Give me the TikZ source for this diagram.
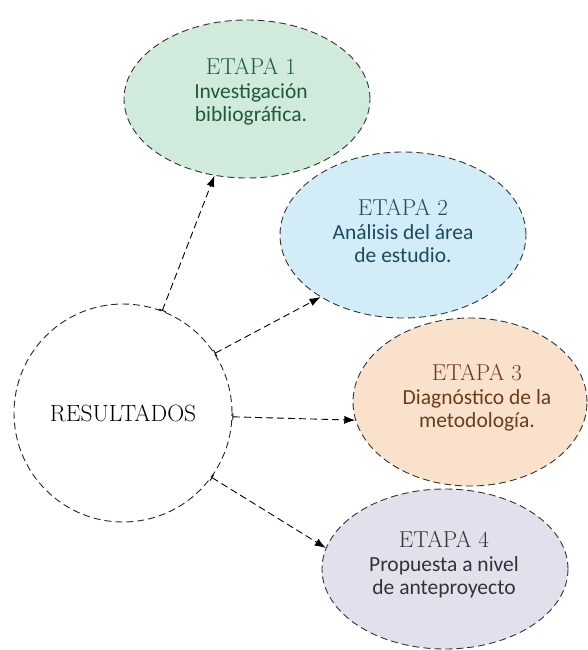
\documentclass[tikz,border=0pt]{standalone}
\usepackage{fontspec}
\setsansfont{Carlito}
\usetikzlibrary{shapes.geometric,arrows.meta}
\definecolor{g1}{HTML}{D0EBDC}\definecolor{g1t}{HTML}{1E5A3A}
\definecolor{b2}{HTML}{D2ECF8}\definecolor{b2t}{HTML}{1D4B5E}
\definecolor{o3}{HTML}{F9E1CC}\definecolor{o3t}{HTML}{6A3C1C}
\definecolor{p4}{HTML}{E3E0EE}\definecolor{p4t}{HTML}{333333}
\tikzset{
  dsh/.style={line width=0.9pt, dash pattern=on 7pt off 4pt},
  etapa/.style={ellipse, draw=black!80, dsh, inner sep=0pt},
  etxt/.style={align=center, inner sep=0pt, font=\fontsize{21.5}{23}\sffamily},
  conn/.style={dsh, black, {Bar[width=7pt,line width=0.9pt]}-{Latex[length=11pt,width=8pt]}}
}
\newcommand{\etitle}[1]{{\fontsize{23}{24}\rmfamily ETAPA \oldstylenums{#1}}\\[1pt]}
\begin{document}
\begin{tikzpicture}[x=1pt,y=-1pt]
\useasboundingbox (0,0) rectangle (587,650);
\node[circle, draw=black!85, dsh, minimum size=218pt, inner sep=0pt,
  font=\fontsize{23.5}{25}\rmfamily] (res) at (123,413) {RESULTADOS};
\node[etapa, fill=g1, minimum width=246pt, minimum height=158pt] (e1) at (247,99) {};
\node[etxt, text=g1t] (t1) at (251,92) {\etitle{1}Investigación\\bibliográfica.};
\node[etapa, fill=b2, minimum width=246pt, minimum height=166pt] (e2) at (403,235) {};
\node[etxt, text=b2t] (t2) at (403,231) {\etitle{2}Análisis del área\\de estudio.};
\node[etapa, fill=o3, minimum width=234pt, minimum height=168pt] (e3) at (470,402) {};
\node[etxt, text=o3t] (t3) at (477,398) {\etitle{3}Diagnóstico de la\\metodología.};
\node[etapa, fill=p4, minimum width=246pt, minimum height=160pt] (e4) at (445,569) {};
\node[etxt, text=p4t] (t4) at (444,565) {\etitle{4}Propuesta a nivel\\de anteproyecto};
\draw[conn] (res.69) -- (e1.247);
\draw[conn] (res.33) -- (e2.217);
\draw[conn] (res.358) -- (e3.189);
\draw[conn] (res.324) -- (e4.170);
\end{tikzpicture}
\end{document}
